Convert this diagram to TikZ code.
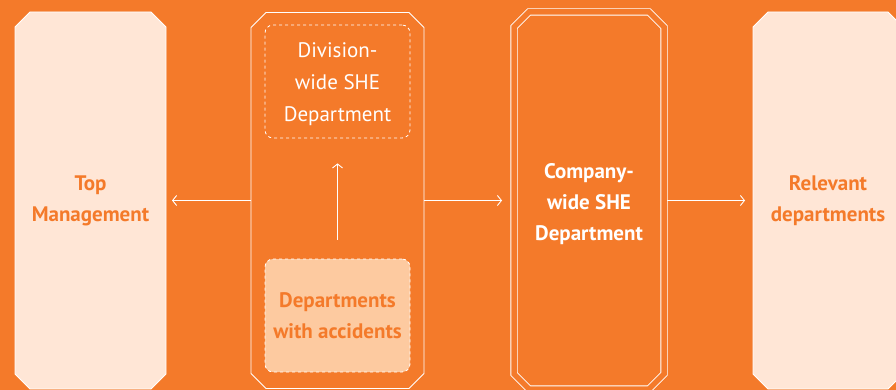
\documentclass[tikz,border=0pt]{standalone}
\usepackage{fontspec}
\setmainfont{PT Sans}
\usetikzlibrary{arrows.meta,positioning,backgrounds}
\definecolor{bgorange}{RGB}{244,122,42}
\definecolor{paleorange}{RGB}{255,230,214}
\definecolor{softorange}{RGB}{253,202,160}
% outline with cut corners round a named node
\newcommand{\chamferpanel}[2]{%
  \path[#2] ([yshift=-15pt]#1.north west) -- ([xshift=15pt]#1.north west)
    -- ([xshift=-15pt]#1.north east) -- ([yshift=-15pt]#1.north east)
    -- ([yshift=15pt]#1.south east) -- ([xshift=-15pt]#1.south east)
    -- ([xshift=15pt]#1.south west) -- ([yshift=15pt]#1.south west) -- cycle;}
\tikzset{
  panel/.style={rectangle, inner sep=0pt, outer sep=0pt, align=center},
  subbox/.style={draw=white, dashed, line width=0.8pt, rounded corners=8pt,
    minimum width=145pt, minimum height=113pt, inner sep=0pt, align=center},
  flow/.style={draw=white, line width=0.9pt, -{Straight Barb[length=4pt,width=10pt]}},
  boldlabel/.style={font=\fontsize{21}{31}\selectfont\bfseries, text=bgorange},
  plainlabel/.style={font=\fontsize{21}{32}\selectfont, text=white}
}
\begin{document}
\begin{tikzpicture}[x=1pt,y=-1pt]
\useasboundingbox (0,0) rectangle (896,390);
% outer panels
\node[panel, boldlabel, minimum width=151pt, minimum height=377pt] (top) at (90.5,200.5) {Top\\Management};
\node[panel, minimum width=173pt, minimum height=376pt] (division) at (337.5,200.5) {};
\node[panel, minimum width=150pt, minimum height=377pt] (company) at (589,200.5) {};
\node[boldlabel, text=white, align=center] (companytext) at (589,204) {Company-\\wide SHE\\Department};
\node[panel, boldlabel, minimum width=150pt, minimum height=377pt] (relevant) at (828,200.5) {Relevant\\departments};
% inside the division panel
\node[subbox] (divshe) at (337.5,81.5) {};
\node[plainlabel, align=center] (divshetext) at (337.5,84.5) {Division-\\wide SHE\\Department};
\node[subbox, fill=softorange, boldlabel] (accidents) at (337.5,315.5) {Departments\\with accidents};
\begin{scope}[on background layer]
  \fill[bgorange] (0,0) rectangle (896,390);
  \chamferpanel{top}{fill=paleorange, draw=white, line width=0.8pt}
  \chamferpanel{division}{draw=white, line width=0.8pt}
  \chamferpanel{company}{draw=white, line width=0.8pt, double=bgorange, double distance=5.5pt}
  \chamferpanel{relevant}{fill=paleorange, draw=white, line width=0.8pt}
\end{scope}
% connectors
\draw[flow, shorten >=6pt] (division.west) -- (top.east);
\draw[flow, shorten <=19pt, shorten >=25pt] (accidents.north) -- (divshe.south);
\draw[flow, shorten >=12pt] (division.east) -- (company.west);
\draw[flow, shorten <=3pt, shorten >=8pt] (company.east) -- (relevant.west);
\end{tikzpicture}
\end{document}
